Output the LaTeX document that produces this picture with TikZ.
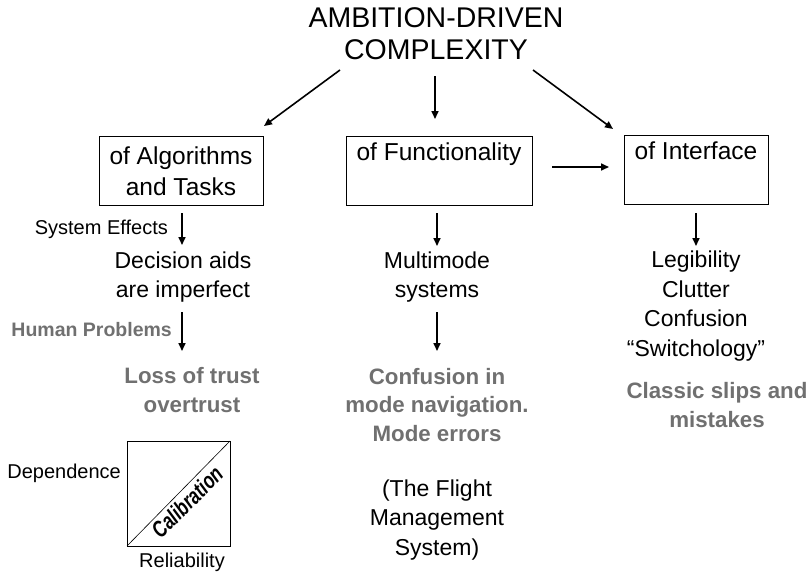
\documentclass[tikz,border=0pt]{standalone}
\usepackage{fontspec}
\usepackage{graphicx}
\setmainfont{Liberation Sans}
\usetikzlibrary{arrows.meta}
\definecolor{probgray}{HTML}{707070}
\tikzset{
  arr/.style={line width=1.6pt,-{Triangle[length=8pt,width=7pt]}},
  boxnode/.style={draw,line width=1pt,minimum height=69pt,inner sep=0pt,align=center,font=\fontsize{24.5}{30.5}\selectfont},
  txt/.style={align=center,inner sep=0pt,font=\fontsize{23}{29.7}\selectfont},
  gtxt/.style={align=center,inner sep=0pt,text=probgray,font=\bfseries\fontsize{22.3}{28.8}\selectfont},
  small/.style={inner sep=0pt,font=\fontsize{20}{22}\selectfont},
  gsmall/.style={inner sep=0pt,text=probgray,font=\bfseries\fontsize{19.5}{22}\selectfont},
}
\begin{document}
\begin{tikzpicture}[x=1pt,y=-1pt]
\useasboundingbox (0,0) rectangle (809,576);
% title
\node[align=center,inner sep=0pt,font=\fontsize{28.5}{32}\selectfont] (title) at (436,34) {AMBITION-DRIVEN\\COMPLEXITY};
% boxes
\node[boxnode,minimum width=164pt] (b1) at (181,171) {of Algorithms\\and Tasks};
\node[boxnode,minimum width=186pt] (b2) at (439,171) {of Functionality\\\strut};
\node[boxnode,minimum width=144pt] (b3) at (696,170) {of Interface\\\strut};
% top arrows
\coordinate (t1) at (340,70);
\coordinate (t2) at (435,76);
\coordinate (t3) at (533,70);
\coordinate (e1) at (264,126);
\coordinate (e2) at (435,119);
\coordinate (e3) at (613,129);
\draw[arr] (t1) -- (e1);
\draw[arr] (t2) -- (e2);
\draw[arr] (t3) -- (e3);
\coordinate (h1) at (552,167);
\coordinate (h2) at (609,167);
\draw[arr] (h1) -- (h2);
% column 1
\node[txt] (dec) at (183,277) {Decision aids\\are imperfect};
\node[gtxt] (loss) at (192,390) {Loss of trust\\overtrust};
\coordinate (a1s) at (182,213);
\coordinate (a1e) at (182,245);
\draw[arr] (a1s) -- (a1e);
\node[small,anchor=east] (sys) at (168,229) {System Effects};
\coordinate (c1s) at (182,312);
\coordinate (c1e) at (182,351);
\draw[arr] (c1s) -- (c1e);
\node[gsmall,anchor=east] (hum) at (172,330) {Human Problems};
% column 2
\node[txt] (multi) at (437,277) {Multimode\\systems};
\node[gtxt] (conf) at (437,405) {Confusion in\\mode navigation.\\Mode errors};
\node[txt] (fms) at (437,520) {(The Flight\\Management\\System)};
\coordinate (a2s) at (437,213);
\coordinate (a2e) at (437,246);
\coordinate (c2s) at (437,312);
\coordinate (c2e) at (437,351);
\draw[arr] (a2s) -- (a2e);
\draw[arr] (c2s) -- (c2e);
% column 3
\node[txt] (leg) at (696,306) {Legibility\\Clutter\\Confusion\\``Switchology''};
\node[gtxt] (slips) at (717,405) {Classic slips and\\mistakes};
\coordinate (a3s) at (696,213);
\coordinate (a3e) at (696,246);
\draw[arr] (a3s) -- (a3e);
% calibration plot
\coordinate (pbl) at (127,546);
\coordinate (ptr) at (230,441);
\draw[line width=0.8pt] (pbl) rectangle (ptr);
\draw[line width=0.6pt] (pbl) -- (ptr);
\node[inner sep=0pt,rotate=45,font=\bfseries\itshape\fontsize{23}{25}\selectfont] (cal) at (187,502) {\scalebox{0.75}[1]{Calibration}};
\node[small,anchor=east] (dep) at (121,473) {Dependence};
\node[small] (rel) at (182,562) {Reliability};
\end{tikzpicture}
\end{document}
